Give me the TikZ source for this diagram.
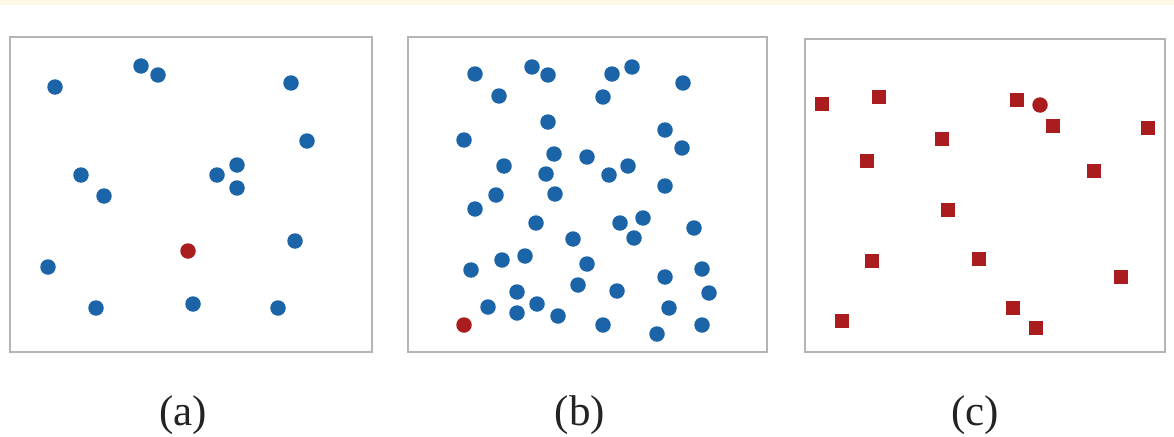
\documentclass[tikz,border=0pt]{standalone}
\usepackage{fontspec}
\setmainfont{Liberation Serif}
\usetikzlibrary{shapes.geometric}
\definecolor{dotblue}{RGB}{28,100,168}
\definecolor{dotred}{RGB}{170,28,30}
\definecolor{boxgray}{RGB}{180,180,180}
\definecolor{cream}{RGB}{254,247,226}
\definecolor{labgray}{RGB}{35,35,35}
\begin{document}
\begin{tikzpicture}[x=1pt,y=-1pt,
  panel/.style={draw=boxgray,line width=2.6pt,fill=white},
  bdot/.style={circle,fill=dotblue,inner sep=0pt,minimum size=15.5pt},
  rdot/.style={circle,fill=dotred,inner sep=0pt,minimum size=15.5pt},
  rsq/.style={rectangle,fill=dotred,inner sep=0pt,minimum size=14.5pt},
  lab/.style={font=\fontsize{43}{46}\selectfont,text=labgray,inner sep=0pt,anchor=base}]
\useasboundingbox[fill=white] (0,0) rectangle (1174,436);
\fill[cream] (0,0) rectangle (1174,5);
% panels
\draw[panel] (10,37) rectangle (372,352);
\draw[panel] (408,37) rectangle (767,352);
\draw[panel] (805,39) rectangle (1165,352);
% panel (a)
\foreach \x/\y [count=\i] in {55/87,141/66,158/75,291/83,307/141,81/175,104/196,217/175,237/165,237/188,295/241,48/267,96/308,193/304,278/308}
  \node[bdot] (a\i) at (\x,\y) {};
\node[rdot] (ared) at (188,251) {};
% panel (b)
\foreach \x/\y [count=\i] in {475/74,532/67,548/75,499/96,612/74,632/67,603/97,683/83,548/122,464/140,665/130,682/148,554/154,587/157,628/166,609/175,546/174,504/166,665/186,555/194,496/195,475/209,536/223,620/223,643/218,634/238,694/228,573/239,525/256,502/260,587/264,471/270,665/277,702/269,578/285,517/292,617/291,709/293,488/307,537/304,517/313,558/316,669/308,603/325,657/334,702/325}
  \node[bdot] (b\i) at (\x,\y) {};
\node[rdot] (bred) at (464,325) {};
% panel (c)
\foreach \x/\y [count=\i] in {822/104,879/97,1017/100,1053/126,1148/128,942/139,867/161,1094/171,948/210,872/261,979/259,1121/277,1013/308,1036/328,842/321}
  \node[rsq] (c\i) at (\x,\y) {};
\node[rdot] (cred) at (1040,105) {};
% labels
\node[lab] (la) at (183,425) {(a)};
\node[lab] (lb) at (580,425) {(b)};
\node[lab] (lc) at (975,425) {(c)};
\end{tikzpicture}
\end{document}
